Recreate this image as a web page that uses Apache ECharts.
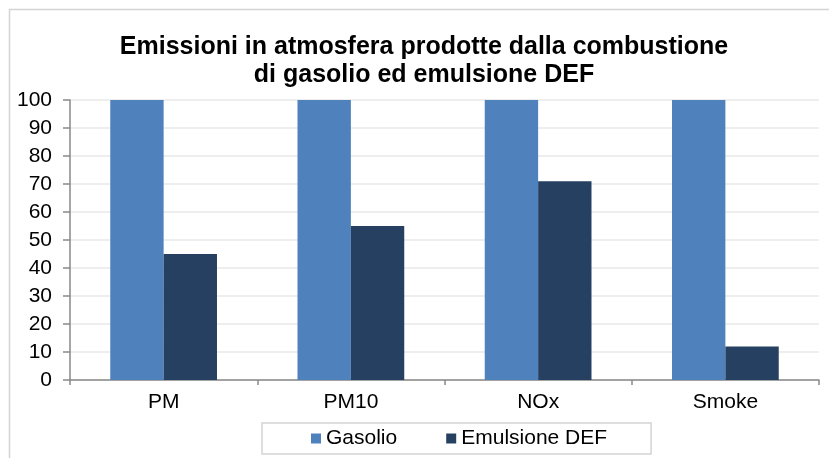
<!DOCTYPE html>
<html>
<head>
<meta charset="utf-8">
<script src="https://cdn.jsdelivr.net/npm/echarts@6/dist/echarts.min.js"></script>
<style>
  html, body { margin: 0; padding: 0; background: #fff; }
  #chart { width: 829px; height: 458px; }
</style>
</head>
<body>
<div id="chart"></div>
<script>
const categories = ['PM', 'PM10', 'NOx', 'Smoke']
const gasolio = [100, 100, 100, 100]
const emulsione = [45, 55, 71, 12]
const yTicks = { min: 0, max: 100, interval: 10 }

const font = 'Liberation Sans, Arial, sans-serif'

const chart = echarts.init(document.getElementById('chart'))

chart.setOption({
  animation: false,
  backgroundColor: '#fff',
  title: {
    text: 'Emissioni in atmosfera prodotte dalla combustione\ndi gasolio ed emulsione DEF',
    left: 424,
    top: 33,
    padding: 0,
    textAlign: 'center',
    textStyle: {
      fontFamily: font,
      fontSize: 25,
      fontWeight: 'bold',
      color: '#000',
      lineHeight: 28
    }
  },
  graphic: [{
    type: 'rect',
    shape: { x: 9.5, y: 9.5, width: 900, height: 600 },
    style: { fill: 'none', stroke: '#d4d4d4', lineWidth: 1.5 },
    silent: true
  }],
  legend: {
    left: 262,
    top: 423,
    padding: [5, 44, 5, 49],
    itemWidth: 10,
    itemHeight: 10,
    itemGap: 49,
    icon: 'rect',
    borderColor: '#d4d4d4',
    borderWidth: 1.5,
    textStyle: { fontFamily: font, fontSize: 21, color: '#000' },
    data: ['Gasolio', 'Emulsione DEF']
  },
  grid: { left: 70, right: 10, top: 100, bottom: 78, containLabel: false },
  xAxis: {
    type: 'category',
    data: categories,
    axisLine: { lineStyle: { color: '#898989', width: 1.5 } },
    axisTick: { show: true, length: 5, lineStyle: { color: '#898989', width: 1.5 } },
    axisLabel: { fontFamily: font, fontSize: 21, color: '#000', margin: 12 }
  },
  yAxis: {
    type: 'value',
    min: yTicks.min,
    max: yTicks.max,
    interval: yTicks.interval,
    axisLine: { show: true, lineStyle: { color: '#898989', width: 1.5 } },
    axisTick: { show: true, length: 7, lineStyle: { color: '#898989', width: 1.5 } },
    axisLabel: { fontFamily: font, fontSize: 21, color: '#000', margin: 18 },
    splitLine: { lineStyle: { color: '#e8e8e8', width: 1.5 } }
  },
  series: [
    {
      name: 'Gasolio',
      type: 'bar',
      data: gasolio,
      barGap: '0%',
      barCategoryGap: '43%',
      itemStyle: { color: '#4f81bd' }
    },
    {
      name: 'Emulsione DEF',
      type: 'bar',
      data: emulsione,
      itemStyle: { color: '#254061' }
    }
  ]
})
</script>
</body>
</html>
